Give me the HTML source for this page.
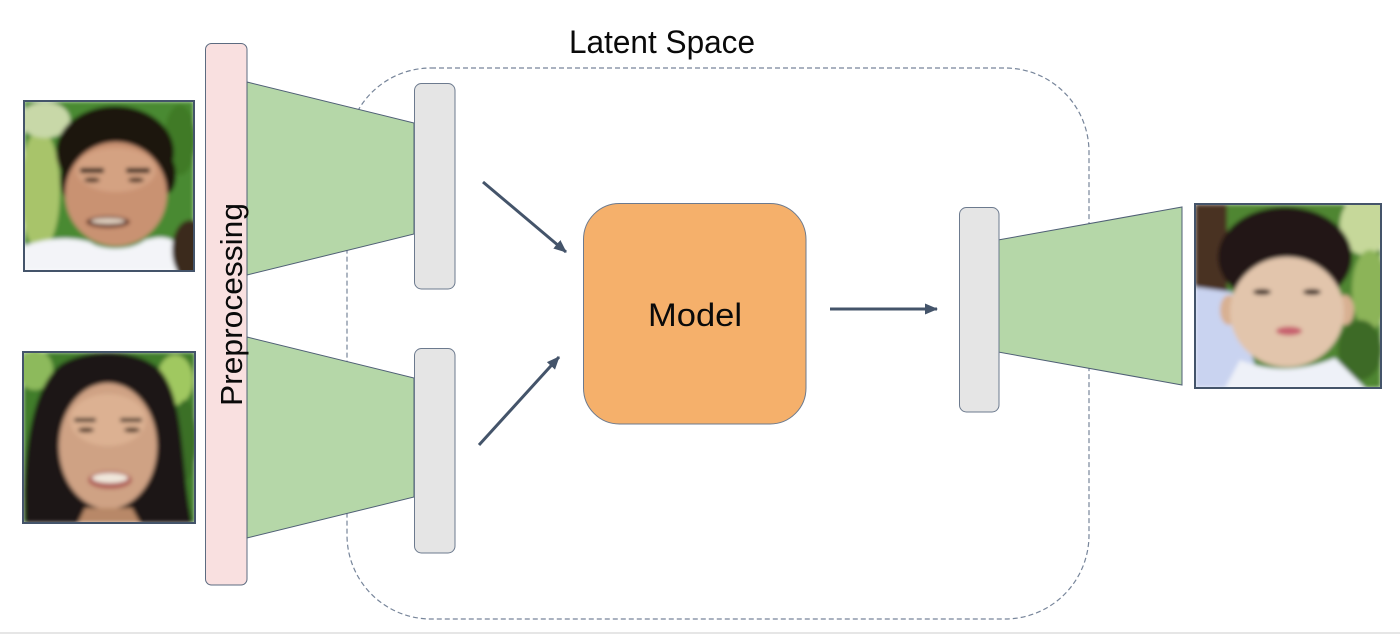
<!DOCTYPE html>
<html><head><meta charset="utf-8"><style>
html,body{margin:0;padding:0;background:#fff;}
svg{display:block;}
text{font-family:"Liberation Sans",sans-serif;fill:#0a0a0a;}
</style></head><body>
<svg width="1400" height="634" viewBox="0 0 1400 634" xmlns="http://www.w3.org/2000/svg">
<defs>
<clipPath id="c1"><rect x="24" y="101" width="170" height="170"/></clipPath>
<clipPath id="c2"><rect x="23" y="352" width="172" height="171"/></clipPath>
<clipPath id="c3"><rect x="1195" y="204" width="186" height="184"/></clipPath>
<filter id="bl" x="-10%" y="-10%" width="120%" height="120%"><feGaussianBlur stdDeviation="2.2"/></filter>
<marker id="ah" markerUnits="userSpaceOnUse" markerWidth="14" markerHeight="12" refX="12" refY="6" orient="auto">
<path d="M0,0.5 L13,6 L0,11.5 Z" fill="#44546a"/></marker>
</defs>
<rect x="0" y="0" width="1400" height="634" fill="#fff"/>
<rect x="0" y="632" width="1400" height="2" fill="#e6e6e6"/>

<!-- latent space dashed box -->
<rect x="347" y="68" width="742" height="551" rx="84" ry="84" fill="none" stroke="#77859a" stroke-width="1.2" stroke-dasharray="5,3"/>
<text x="569" y="53" font-size="32" textLength="186" lengthAdjust="spacingAndGlyphs">Latent Space</text>

<!-- preprocessing bar -->
<rect x="205.5" y="43.5" width="41.5" height="541.5" rx="6" fill="#f9e0e0" stroke="#5c6b80" stroke-width="1"/>

<!-- trapezoids -->
<polygon points="247,82 414,123 414,234 247,275" fill="#b5d7a8" stroke="#4f5f75" stroke-width="1"/>
<polygon points="247,337 414,378 414,497 247,538" fill="#b5d7a8" stroke="#4f5f75" stroke-width="1"/>
<polygon points="998,240 1182,207 1182,385 998,352" fill="#b5d7a8" stroke="#4f5f75" stroke-width="1"/>

<!-- grey latent boxes -->
<rect x="414.5" y="83.5" width="40.5" height="205.5" rx="7" fill="#e5e5e5" stroke="#6c7a8e" stroke-width="1"/>
<rect x="414.5" y="348.5" width="40.5" height="204.5" rx="7" fill="#e5e5e5" stroke="#6c7a8e" stroke-width="1"/>
<rect x="959.5" y="207.5" width="39.5" height="204.5" rx="7" fill="#e5e5e5" stroke="#6c7a8e" stroke-width="1"/>

<!-- model -->
<rect x="583.5" y="203.5" width="222.5" height="220.5" rx="36" fill="#f5b06b" stroke="#6c7a8e" stroke-width="1"/>
<text x="648" y="326" font-size="32" textLength="94" lengthAdjust="spacingAndGlyphs">Model</text>

<!-- arrows -->
<line x1="483" y1="182" x2="566" y2="252" stroke="#44546a" stroke-width="3" marker-end="url(#ah)"/>
<line x1="479" y1="445" x2="559" y2="357" stroke="#44546a" stroke-width="3" marker-end="url(#ah)"/>
<line x1="830" y1="309" x2="937" y2="309" stroke="#44546a" stroke-width="3" marker-end="url(#ah)"/>

<!-- photo 1: man -->
<g clip-path="url(#c1)">
<g filter="url(#bl)">
<rect x="24" y="101" width="170" height="170" fill="#4a8a30"/>
<ellipse cx="40" cy="190" rx="20" ry="60" fill="#a8c46a"/>
<ellipse cx="45" cy="120" rx="25" ry="18" fill="#c8d8a8"/>
<ellipse cx="180" cy="140" rx="16" ry="35" fill="#3f7a28"/>
<ellipse cx="115" cy="152" rx="59" ry="46" fill="#1c1510"/>
<ellipse cx="68" cy="180" rx="8" ry="18" fill="#1c1510"/>
<ellipse cx="168" cy="175" rx="8" ry="18" fill="#1c1510"/>
<ellipse cx="116" cy="194" rx="51" ry="52" fill="#c99272"/>
<ellipse cx="116" cy="170" rx="40" ry="22" fill="#d4a282"/>
<rect x="80" y="168" width="24" height="5" rx="2" fill="#2a1a12"/>
<rect x="126" y="168" width="24" height="5" rx="2" fill="#2a1a12"/>
<ellipse cx="92" cy="180" rx="8" ry="2.5" fill="#4a3020"/>
<ellipse cx="136" cy="180" rx="8" ry="2.5" fill="#4a3020"/>
<ellipse cx="108" cy="222" rx="22" ry="6" fill="#6a3a2a"/>
<ellipse cx="108" cy="221" rx="17" ry="3" fill="#e0d0c0"/>
<path d="M24,246 C45,238 70,236 90,242 C100,250 130,252 145,240 C160,236 168,236 178,244 L178,271 L24,271 Z" fill="#f3f4f8"/>
<ellipse cx="190" cy="250" rx="18" ry="30" fill="#3a2a1e"/>
</g>
</g>
<rect x="24" y="101" width="170" height="170" fill="none" stroke="#44546a" stroke-width="2"/>

<!-- photo 2: woman -->
<g clip-path="url(#c2)">
<g filter="url(#bl)">
<rect x="23" y="352" width="172" height="171" fill="#3f7d2a"/>
<ellipse cx="35" cy="370" rx="18" ry="20" fill="#8dba5c"/>
<ellipse cx="175" cy="380" rx="18" ry="25" fill="#a0c860"/>
<ellipse cx="185" cy="440" rx="12" ry="40" fill="#3a7025"/>
<path d="M25,523 C22,460 30,390 60,365 C85,348 135,348 158,368 C185,395 180,460 192,523 Z" fill="#1e1612"/>
<ellipse cx="108" cy="446" rx="49" ry="63" fill="#cfa284"/>
<ellipse cx="108" cy="420" rx="38" ry="26" fill="#dcb192"/>
<rect x="74" y="418" width="22" height="4" rx="2" fill="#3a2a20"/>
<rect x="120" y="418" width="22" height="4" rx="2" fill="#3a2a20"/>
<ellipse cx="86" cy="430" rx="8" ry="2.5" fill="#4a3020"/>
<ellipse cx="132" cy="430" rx="8" ry="2.5" fill="#4a3020"/>
<ellipse cx="110" cy="480" rx="22" ry="9" fill="#b06058"/>
<ellipse cx="110" cy="478" rx="18" ry="5" fill="#f0e8dc"/>
<path d="M85,508 L132,508 L140,523 L78,523 Z" fill="#b88868"/>
</g>
</g>
<rect x="23" y="352" width="172" height="171" fill="none" stroke="#44546a" stroke-width="2"/>

<!-- photo 3: child -->
<g clip-path="url(#c3)">
<g filter="url(#bl)">
<rect x="1195" y="204" width="186" height="184" fill="#4f8632"/>
<ellipse cx="1365" cy="225" rx="25" ry="30" fill="#c6d89a"/>
<ellipse cx="1370" cy="290" rx="18" ry="40" fill="#8cb458"/>
<ellipse cx="1360" cy="350" rx="22" ry="30" fill="#3e6a28"/>
<rect x="1195" y="204" width="32" height="95" fill="#4a3222"/>
<path d="M1195,287 L1232,292 L1262,388 L1195,388 Z" fill="#c9d3f0"/>
<ellipse cx="1285" cy="257" rx="67" ry="50" fill="#221912"/>
<ellipse cx="1229" cy="310" rx="9" ry="15" fill="#d8b092"/>
<ellipse cx="1345" cy="310" rx="9" ry="15" fill="#d8b092"/>
<ellipse cx="1287" cy="312" rx="57" ry="55" fill="#e2c5ac"/>
<path d="M1240,360 C1270,372 1300,372 1335,358 L1365,388 L1225,388 Z" fill="#eef1f8"/>
<ellipse cx="1262" cy="292" rx="9" ry="3" fill="#3a2a22"/>
<ellipse cx="1312" cy="292" rx="9" ry="3" fill="#3a2a22"/>
<ellipse cx="1289" cy="331" rx="13" ry="4.5" fill="#c8606e"/>
</g>
</g>
<rect x="1195" y="204" width="186" height="184" fill="none" stroke="#44546a" stroke-width="2"/>

<!-- preprocessing label -->
<text transform="translate(242,304.5) rotate(-90)" text-anchor="middle" font-size="31" textLength="203" lengthAdjust="spacingAndGlyphs">Preprocessing</text>
</svg>
</body></html>
